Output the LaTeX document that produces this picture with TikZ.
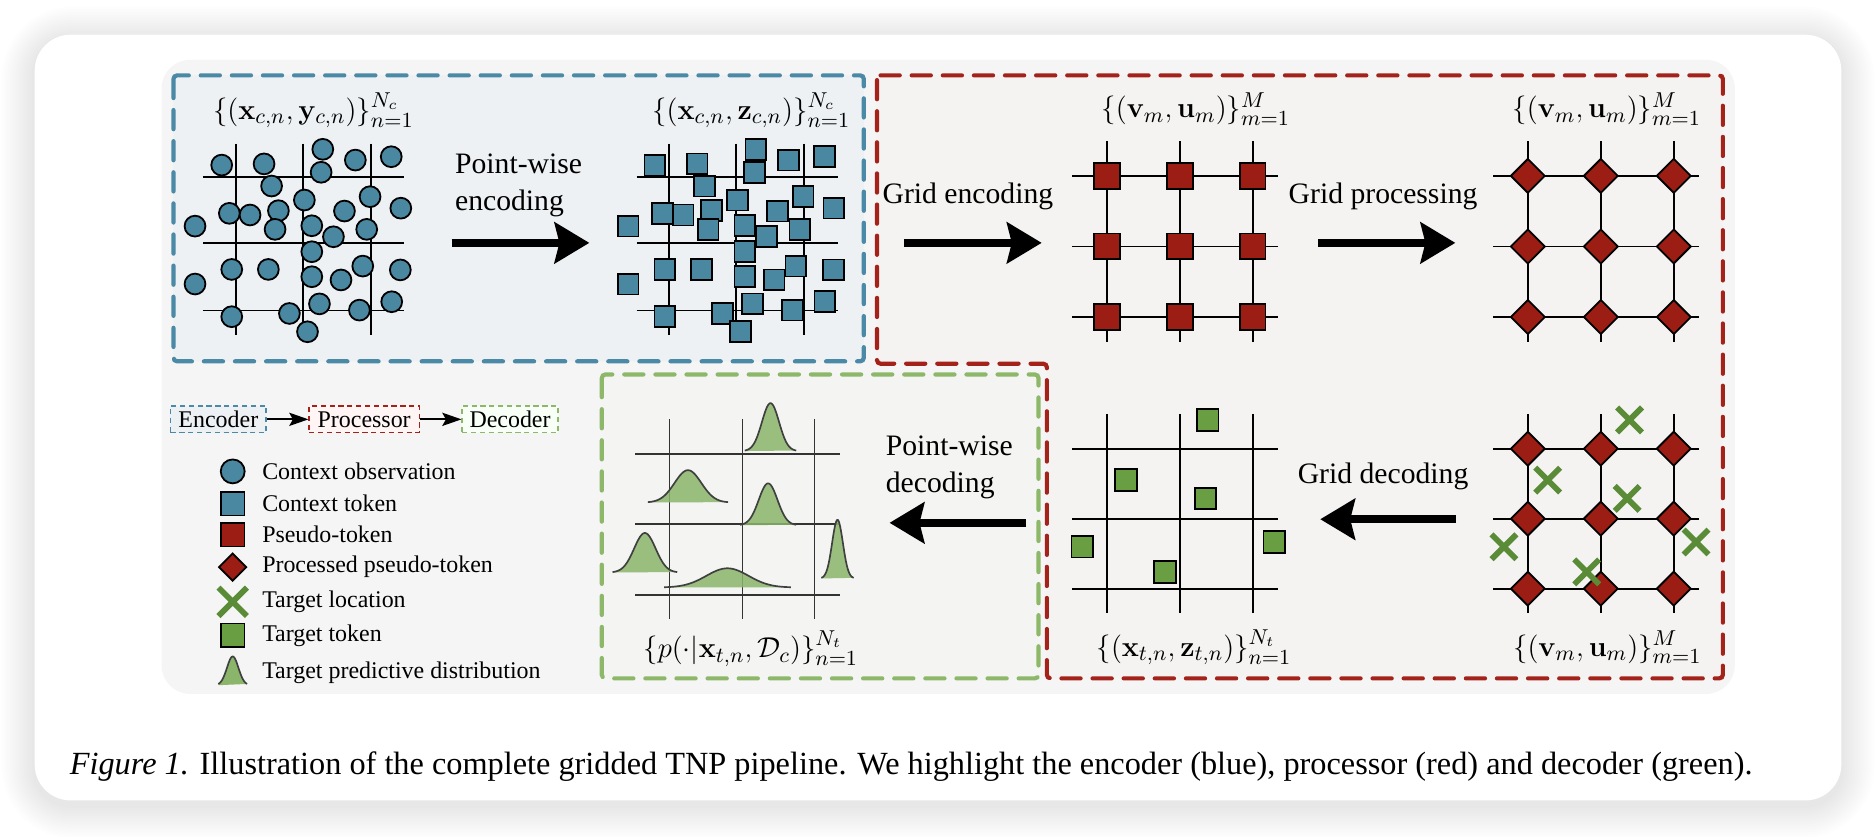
\documentclass[tikz,border=0pt]{standalone}
\usepackage[no-math]{fontspec}
\setmainfont{Liberation Serif}
\usetikzlibrary{shapes.geometric,shapes.misc,arrows.meta}
\definecolor{cblue}{HTML}{4A87A0}
\definecolor{cred}{HTML}{9B1D13}
\definecolor{cgreen}{HTML}{6A9E42}
\definecolor{cxgreen}{HTML}{5A8C38}
\definecolor{gfill}{HTML}{8AB56A}
\definecolor{dblue}{HTML}{4A8AA6}
\definecolor{dred}{HTML}{A3221A}
\definecolor{dgreen}{HTML}{8DB86A}
\definecolor{panelgray}{HTML}{F5F5F5}
\definecolor{bluebg}{HTML}{EDF1F4}
\definecolor{redbg}{HTML}{F4F3F2}
\definecolor{greenbg}{HTML}{F4F4F2}
\newcommand\gdist[4]{%
  \fill[gfill, fill opacity=0.85] (#1-#3,#2) -- plot[domain=-#3:#3, samples=60, smooth] ({#1+\x},{#2-#4*exp(-((\x)^2)/(2*(#3/3)^2))}) -- cycle;
  \draw[gline] plot[domain=-#3:#3, samples=60, smooth] ({#1+\x},{#2-#4*exp(-((\x)^2)/(2*(#3/3)^2))});
}
\tikzset{
  dashbox/.style={line width=1.75pt, dash pattern=on 8pt off 5pt, line cap=round, rounded corners=1.5pt},
  gridline/.style={line width=0.8pt, black},
  dgridline/.style={line width=0.7pt, black!80},
  cobs/.style={circle, draw=black, line width=0.75pt, fill=cblue, minimum size=8.7pt, inner sep=0pt},
  ctok/.style={rectangle, draw=black, line width=0.75pt, fill=cblue, minimum size=8.7pt, inner sep=0pt},
  ptok/.style={rectangle, draw=black, line width=0.75pt, fill=cred, minimum size=10.8pt, inner sep=0pt},
  pptok/.style={diamond, aspect=1, draw=black, line width=0.75pt, fill=cred, minimum size=14.5pt, inner sep=0pt},
  ttok/.style={rectangle, draw=black, line width=0.75pt, fill=cgreen, minimum size=9pt, inner sep=0pt},
  tloc/.style={cross out, draw=cxgreen, line width=2.4pt, minimum size=8pt, inner sep=0pt},
  bigarrow/.style={line width=3.2pt, -{Stealth[length=14.5pt, width=17pt, inset=2pt]}},
  lab/.style={font=\fontsize{12.4}{15.5}\selectfont, inner sep=0pt},
  mlab/.style={font=\fontsize{12.5}{15}\selectfont, inner sep=0pt},
  legtxt/.style={font=\fontsize{10}{12}\selectfont, anchor=west, inner sep=0pt},
  legbox/.style={dash pattern=on 2.2pt off 1.5pt, line width=0.6pt, inner sep=0pt, minimum height=11.2pt, font=\fontsize{10}{12}\selectfont},
  legarrow/.style={line width=0.8pt, -{Stealth[length=8pt, width=5.5pt, inset=1.5pt]}},
  gline/.style={line width=0.7pt, black!75},
}
\begin{document}
\begin{tikzpicture}[x=0.5pt,y=-0.5pt]
\useasboundingbox (0,0) rectangle (1568,699);
\fill[white] (0,0) rectangle (1568,699);
% card shadow
\foreach \i in {1,...,12}{
  \pgfmathsetmacro\rc{15+\i*1.25}
  \fill[black, opacity=0.009, rounded corners=\rc pt] ({29-\i*2.3},{29-\i*2.3+4}) rectangle ({1539+\i*2.3},{669+\i*2.3+4});
}
\fill[white, rounded corners=15pt] (29,29) rectangle (1539,669);
% panel
\fill[panelgray, rounded corners=12pt] (135,50) rectangle (1450,580);
% boxes
\fill[bluebg, rounded corners=1.5pt] (145,63) rectangle (722,302);
\draw[dblue, dashbox] (145,63) rectangle (722,302);
\fill[redbg, rounded corners=1.5pt] (733,63) -- (1440,63) -- (1440,567) -- (875,567) -- (875,304) -- (733,304) -- cycle;
\draw[dred, dashbox] (733,63) -- (1440,63) -- (1440,567) -- (875,567) -- (875,304) -- (733,304) -- cycle;
\fill[greenbg, rounded corners=1.5pt] (503,313) rectangle (868,567);
\draw[dgreen, dashbox] (503,313) rectangle (868,567);

% ---- context observations grid
\foreach \y in {148,203,259.5} \draw[gridline] (170,\y) -- (338,\y);
\foreach \x in {197,253,310} \draw[gridline] (\x,120) -- (\x,280);
\foreach \y in {148,203,259.5} \draw[gridline] (532,\y) -- (700,\y);
\foreach \x in {559,615,672} \draw[gridline] (\x,120) -- (\x,280);
\foreach \px/\py [count=\i] in {185.3/138, 220.7/137, 269.8/124.8, 268.4/144, 297/133.8, 327/131,
  227/155.5, 254.4/167.2, 309.3/164.4, 335/174,
  191.7/178.3, 209/179.7, 232.7/176.1, 287.9/176.4,
  163/189, 229.9/191.7, 260.6/188.7, 278.7/197.9, 306.5/191.7,
  260.6/210.4,
  193.7/225.2, 224.3/225.2, 260.6/231.3, 285/234, 303.2/222.4, 334.6/225.6,
  163/237.4,
  267/254, 193.7/264.7, 241.9/262, 257/277.3, 300.4/259.2, 327.4/252.2}{
  \node[cobs] (co\i) at (\px,\py) {};
  \node[ctok] (ct\i) at (\px+362,\py) {};
}
\node[mlab] (l1) at (262,92) {$\{(\mathbf{x}_{c,n},\mathbf{y}_{c,n})\}_{n=1}^{N_c}$};
\node[mlab] (l2) at (628,92) {$\{(\mathbf{x}_{c,n},\mathbf{z}_{c,n})\}_{n=1}^{N_c}$};

% arrows top
\node[lab, align=left, anchor=west] (t1) at (380,155) {Point-wise\\encoding};
\coordinate (a1s) at (377.5,203); \coordinate (a1e) at (492.6,203);
\draw[bigarrow] (a1s) -- (a1e);
\node[lab] (t2) at (809,164) {Grid encoding};
\coordinate (a2s) at (755.5,203); \coordinate (a2e) at (870.7,203);
\draw[bigarrow] (a2s) -- (a2e);
\node[lab] (t3) at (1156,164) {Grid processing};
\coordinate (a3s) at (1102,203); \coordinate (a3e) at (1216.4,203);
\draw[bigarrow] (a3s) -- (a3e);

% pseudo-token grid
\foreach \y in {147,206,265} \draw[gridline] (896,\y) -- (1068,\y);
\foreach \x in {925,986,1047} \draw[gridline] (\x,118) -- (\x,286);
\foreach \x in {925,986,1047} \foreach \y in {147,206,265} \node[ptok] (p\x-\y) at (\x,\y) {};
\node[mlab] (l3) at (999.5,91) {$\{(\mathbf{v}_{m},\mathbf{u}_{m})\}_{m=1}^{M}$};

% processed grid
\foreach \y in {147,206,265} \draw[gridline] (1248,\y) -- (1420,\y);
\foreach \x in {1277,1338,1399} \draw[gridline] (\x,118) -- (\x,286);
\foreach \x in {1277,1338,1399} \foreach \y in {147,206,265} \node[pptok] (q\x-\y) at (\x,\y) {};
\node[mlab] (l4) at (1343,91) {$\{(\mathbf{v}_{m},\mathbf{u}_{m})\}_{m=1}^{M}$};

% bottom right processed grid with target locations
\foreach \y in {375,433.5,492} \draw[gridline] (1248,\y) -- (1420,\y);
\foreach \x in {1277,1338,1399} \draw[gridline] (\x,346) -- (\x,512);
\foreach \x [count=\j] in {1277,1338,1399} \foreach \y [count=\k] in {375,433.5,492} \node[pptok] (r\j\k) at (\x,\y) {};
\foreach \px/\py [count=\i] in {1362/351, 1293.6/401.3, 1360/416.6, 1257/457, 1417.6/453, 1326.2/478}{
  \node[tloc] (x\i) at (\px,\py) {};
}
\node[mlab] (l6) at (1343.5,541) {$\{(\mathbf{v}_{m},\mathbf{u}_{m})\}_{m=1}^{M}$};

% grid decoding arrow
\node[lab] (t4) at (1156,398.5) {Grid decoding};
\coordinate (a4s) at (1217,434); \coordinate (a4e) at (1103.5,434);
\draw[bigarrow] (a4s) -- (a4e);

% target token grid
\foreach \y in {375,433.5,492} \draw[gridline] (896,\y) -- (1068,\y);
\foreach \x in {925,986,1047} \draw[gridline] (\x,346) -- (\x,512);
\foreach \px/\py [count=\i] in {1009.5/351, 941.1/401.3, 1007.5/416.6, 904.5/457, 1065.1/453, 973.7/478}{
  \node[ttok] (tt\i) at (\px,\py) {};
}
\node[mlab] (l5) at (998,541) {$\{(\mathbf{x}_{t,n},\mathbf{z}_{t,n})\}_{n=1}^{N_t}$};

% point-wise decoding
\node[lab, align=left, anchor=west] (t5) at (740,391) {Point-wise\\decoding};
\coordinate (a5s) at (857.7,437); \coordinate (a5e) at (743.5,437);
\draw[bigarrow] (a5s) -- (a5e);

% predictive distributions
\foreach \y in {379.5,438,497.4} \draw[dgridline] (531,\y) -- (702,\y);
\foreach \x in {559.6,620.6,680.8} \draw[dgridline] (\x,350.6) -- (\x,517);
\gdist{644}{377}{21.5}{40}
\gdist{575}{420}{33.5}{27}
\gdist{642}{439}{23.5}{35}
\gdist{539}{478.5}{27}{33}
\gdist{608}{491}{53}{16}
\gdist{700}{483.5}{13.5}{49}
\node[mlab] (l7) at (627.6,542) {$\{p(\cdot|\mathbf{x}_{t,n},\mathcal{D}_c)\}_{n=1}^{N_t}$};

% legend
\node[legbox, draw=dblue, fill=bluebg, minimum width=40pt] (enc) at (182.5,350.5) {Encoder};
\node[legbox, draw=dred, fill=red!4!white, minimum width=46pt] (proc) at (304.4,350.5) {Processor};
\node[legbox, draw=dgreen, fill=green!3!white, minimum width=40pt] (dec) at (426.3,350.5) {Decoder};
\draw[legarrow] (enc) -- (proc);
\draw[legarrow] (proc) -- (dec);

\node[cobs, minimum size=10pt] (m1) at (194.5,394) {};
\node[ctok, minimum size=9.8pt] (m2) at (194.5,421) {};
\node[ptok, minimum size=9.8pt] (m3) at (194.5,447) {};
\node[pptok, minimum size=11.7pt] (m4) at (194.5,474) {};
\node[tloc, minimum size=9.5pt] (m5) at (194.5,503) {};
\node[ttok, minimum size=9.8pt] (m6) at (194.5,531) {};
\fill[gfill] (182.5,572.7) -- plot[domain=-12:12, samples=40, smooth] ({194.5+\x},{572.7-24*exp(-((\x)^2)/(2*(4.8)^2))}) -- cycle;
\draw[gline] plot[domain=-12:12, samples=40, smooth] ({194.5+\x},{572.7-24*exp(-((\x)^2)/(2*(4.8)^2))});
\node[legtxt] (g1) at (218.8,394) {Context observation};
\node[legtxt] (g2) at (218.8,421) {Context token};
\node[legtxt] (g3) at (218.8,447) {Pseudo-token};
\node[legtxt] (g4) at (218.8,474) {Processed pseudo-token};
\node[legtxt] (g5) at (218.8,503) {Target location};
\node[legtxt] (g6) at (218.8,531) {Target token};
\node[legtxt] (g7) at (218.8,562) {Target predictive distribution};

% caption
\node[anchor=west, inner sep=0pt, font=\fontsize{13.5}{16}\selectfont] (cap) at (58,641) {\textit{Figure 1.} Illustration of the complete gridded TNP pipeline. We highlight the encoder (blue), processor (red) and decoder (green).};
\end{tikzpicture}
\end{document}
